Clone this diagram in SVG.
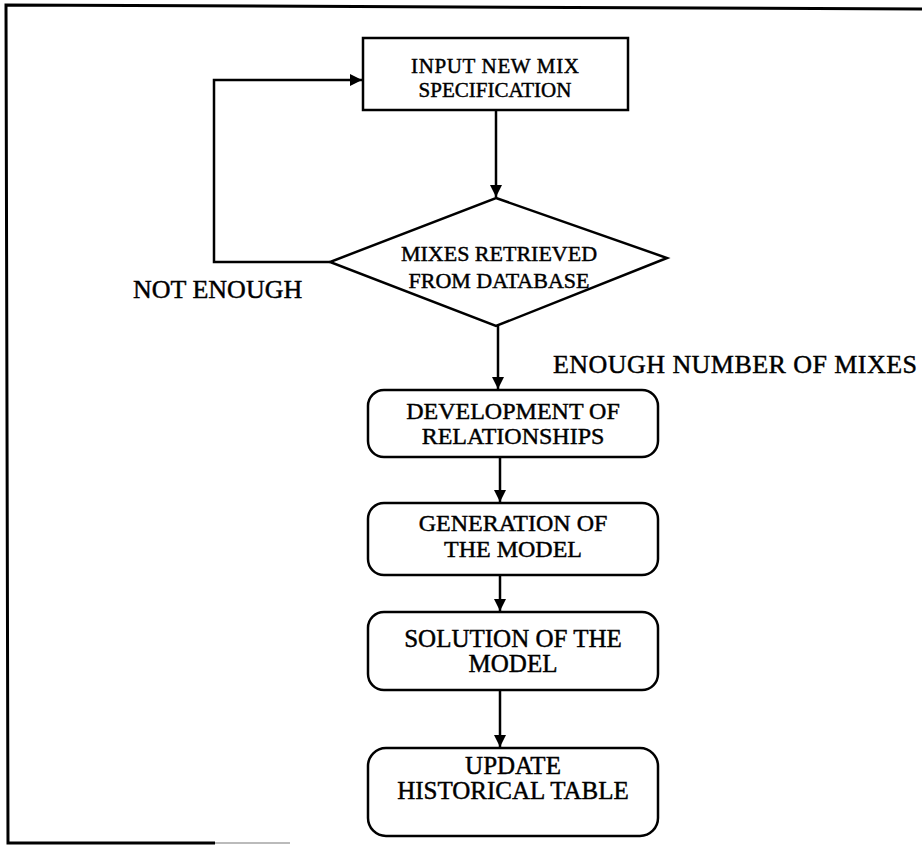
<svg xmlns="http://www.w3.org/2000/svg" width="922" height="846" viewBox="0 0 922 846">
<style>
.t{font-family:"Liberation Serif","Times New Roman",serif;font-size:25px;fill:#000;stroke:#000;stroke-width:0.45;text-anchor:middle}
.s{font-size:22px}
.x{font-size:21px}
.g{font-size:24px}
.lb{font-size:26px;text-anchor:start}
.b{fill:#fff;stroke:#000;stroke-width:2.5}
.c{fill:none;stroke:#000;stroke-width:2.5}
</style>
<defs>
<marker id="ah" viewBox="0 0 10 10" refX="10" refY="5" markerWidth="5" markerHeight="5" orient="auto" markerUnits="strokeWidth">
<path d="M0,0 L10,5 L0,10 z" fill="#000"/>
</marker>
</defs>
<rect width="922" height="846" fill="#fff"/>
<g id="frame">
<polyline points="922,9 6,5 8,843 215,843" fill="none" stroke="#000" stroke-width="3"/>
<line x1="215" y1="843" x2="290" y2="843" stroke="#bbb" stroke-width="2"/>
</g>
<g id="connectors">
<line class="c" x1="496" y1="109" x2="496" y2="197" marker-end="url(#ah)"/>
<polyline class="c" points="330,262 214,262 214,80 362,80" marker-end="url(#ah)"/>
<line class="c" x1="498" y1="326" x2="498" y2="389" marker-end="url(#ah)"/>
<line class="c" x1="500" y1="457" x2="500" y2="502" marker-end="url(#ah)"/>
<line class="c" x1="500" y1="575" x2="500" y2="611" marker-end="url(#ah)"/>
<line class="c" x1="500" y1="690" x2="500" y2="747" marker-end="url(#ah)"/>
</g>
<g id="input">
<rect class="b" x="363" y="38" width="265" height="72"/>
<text class="t x" x="495" y="73" textLength="168">INPUT NEW MIX</text>
<text class="t x" x="495" y="97">SPECIFICATION</text>
</g>
<g id="decision">
<polygon class="b" points="496,198 667,258 496,326 330,262"/>
<text class="t s" x="499" y="261">MIXES RETRIEVED</text>
<text class="t s" x="499" y="288">FROM DATABASE</text>
</g>
<g id="label-not-enough">
<text class="t lb" x="133" y="298">NOT ENOUGH</text>
</g>
<g id="label-enough">
<text class="t lb" x="553" y="373" textLength="364">ENOUGH NUMBER OF MIXES</text>
</g>
<g id="development">
<rect class="b" x="368" y="390" width="290" height="67" rx="16"/>
<text class="t g" x="513" y="419">DEVELOPMENT OF</text>
<text class="t g" x="513" y="444">RELATIONSHIPS</text>
</g>
<g id="generation">
<rect class="b" x="368" y="503" width="290" height="72" rx="16"/>
<text class="t g" x="513" y="531">GENERATION OF</text>
<text class="t g" x="513" y="557">THE MODEL</text>
</g>
<g id="solution">
<rect class="b" x="368" y="612" width="290" height="78" rx="16"/>
<text class="t" x="513" y="647">SOLUTION OF THE</text>
<text class="t" x="513" y="672">MODEL</text>
</g>
<g id="update">
<rect class="b" x="368" y="748" width="290" height="88" rx="18"/>
<text class="t" x="513" y="774">UPDATE</text>
<text class="t" x="513" y="799">HISTORICAL TABLE</text>
</g>
</svg>
